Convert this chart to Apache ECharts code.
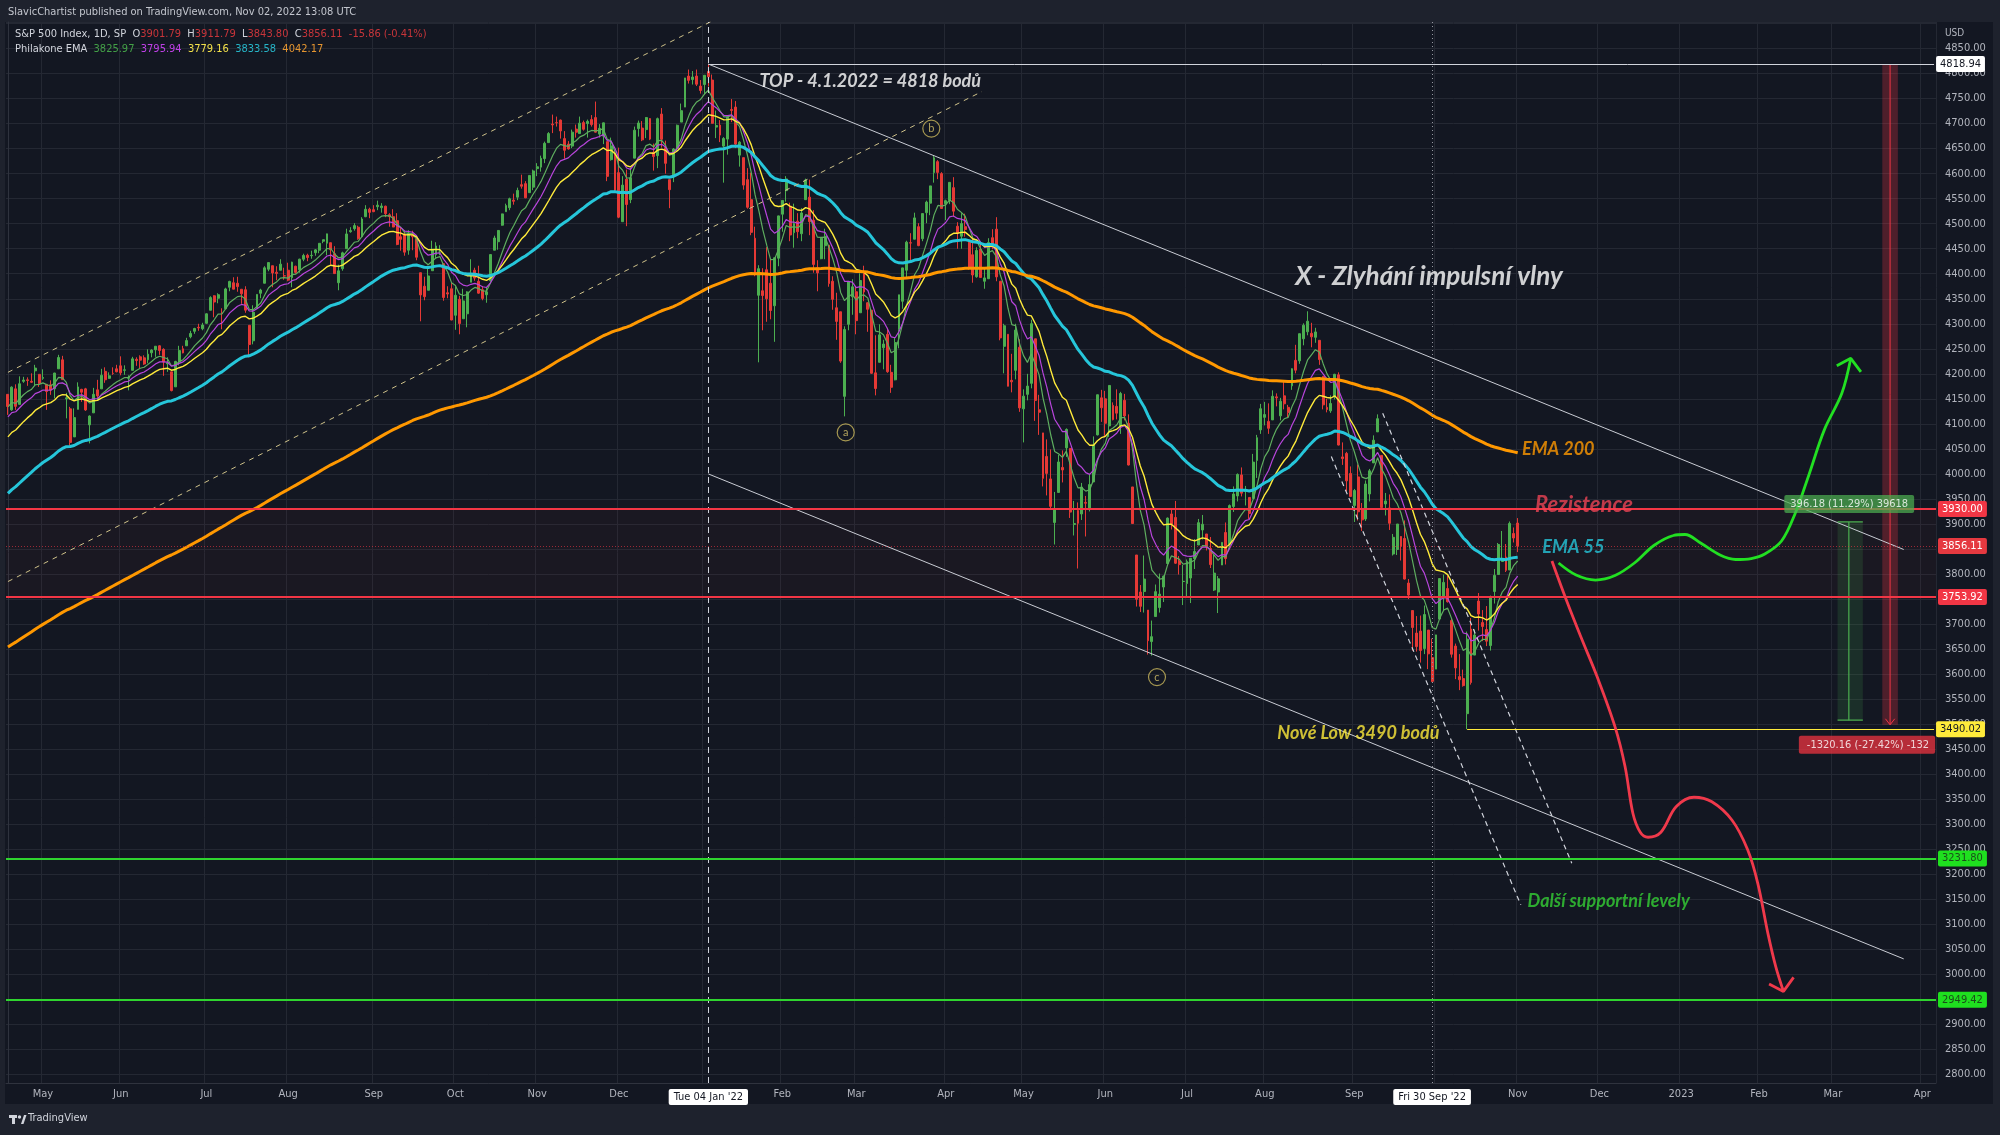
<!DOCTYPE html>
<html>
<head>
<meta charset="utf-8">
<script src="https://cdn.jsdelivr.net/npm/echarts@6/dist/echarts.min.js"></script>
<style>
html,body{margin:0;padding:0;background:#1e222d;}
#chart{width:2000px;height:1135px;}
</style>
</head>
<body>
<div id="chart"></div>
<script>
// ---------------- DATA ----------------
// S&P 500 daily bars: [date, open, high, low, close]
const spxDaily = [
['2021-04-20',4159,4159,4118,4134.9],['2021-04-21',4128,4175,4126,4173.4],['2021-04-22',4170,4179,4128,4135.0],['2021-04-23',4139,4195,4139,4180.2],['2021-04-26',4185,4194,4182,4187.6],['2021-04-27',4188,4193,4176,4186.7],['2021-04-28',4185,4201,4182,4183.2],['2021-04-29',4206,4218,4176,4211.5],['2021-04-30',4199,4199,4174,4181.2],
['2021-05-03',4191,4209,4188,4192.7],['2021-05-04',4179,4179,4128,4164.7],['2021-05-05',4178,4187,4158,4167.6],['2021-05-06',4170,4202,4151,4201.6],['2021-05-07',4210,4238,4210,4232.6],['2021-05-10',4228,4236,4188,4188.4],['2021-05-11',4150,4162,4111,4152.1],['2021-05-12',4130,4134,4056,4063.0],['2021-05-13',4074,4131,4074,4112.5],['2021-05-14',4129,4183,4129,4173.9],['2021-05-17',4169,4170,4144,4163.3],['2021-05-18',4170,4172,4126,4127.8],['2021-05-19',4098,4117,4061,4115.7],['2021-05-20',4122,4172,4122,4159.1],['2021-05-21',4168,4188,4152,4155.9],['2021-05-24',4170,4210,4170,4197.1],['2021-05-25',4205,4213,4182,4188.1],['2021-05-26',4191,4203,4190,4196.0],['2021-05-27',4201,4213,4198,4200.9],['2021-05-28',4210,4218,4203,4204.1],
['2021-06-01',4216,4235,4197,4202.0],['2021-06-02',4207,4217,4198,4208.1],['2021-06-03',4191,4197,4167,4192.9],['2021-06-04',4207,4234,4207,4229.9],['2021-06-07',4229,4233,4216,4226.5],['2021-06-08',4234,4237,4211,4227.3],['2021-06-09',4232,4237,4218,4219.6],['2021-06-10',4228,4249,4221,4239.2],['2021-06-11',4242,4249,4233,4247.4],['2021-06-14',4248,4255,4234,4255.2],['2021-06-15',4256,4257,4238,4246.6],['2021-06-16',4249,4251,4196,4223.7],['2021-06-17',4220,4233,4204,4221.9],['2021-06-18',4204,4204,4165,4166.5],['2021-06-21',4174,4226,4174,4224.8],['2021-06-22',4224,4256,4217,4246.4],['2021-06-23',4250,4256,4241,4241.8],['2021-06-24',4256,4272,4256,4266.5],['2021-06-25',4274,4286,4271,4280.7],['2021-06-28',4285,4292,4280,4290.6],['2021-06-29',4293,4300,4286,4291.8],['2021-06-30',4290,4302,4287,4297.5],
['2021-07-01',4301,4321,4300,4319.9],['2021-07-02',4327,4355,4327,4352.3],['2021-07-06',4356,4357,4313,4343.5],['2021-07-07',4351,4361,4341,4358.1],['2021-07-08',4321,4331,4289,4320.8],['2021-07-09',4330,4372,4330,4369.6],['2021-07-12',4373,4386,4365,4384.6],['2021-07-13',4382,4393,4369,4369.2],['2021-07-14',4381,4394,4364,4374.3],['2021-07-15',4369,4369,4340,4360.0],['2021-07-16',4368,4375,4322,4327.2],['2021-07-19',4297,4297,4233,4258.5],['2021-07-20',4266,4337,4259,4323.1],['2021-07-21',4332,4359,4330,4358.7],['2021-07-22',4361,4370,4351,4367.5],['2021-07-23',4381,4415,4381,4411.8],['2021-07-26',4409,4422,4405,4422.3],['2021-07-27',4416,4416,4373,4401.5],['2021-07-28',4403,4415,4387,4400.6],['2021-07-29',4407,4429,4407,4419.2],['2021-07-30',4396,4412,4388,4395.3],
['2021-08-02',4407,4422,4385,4387.2],['2021-08-03',4392,4424,4373,4423.2],['2021-08-04',4415,4416,4400,4402.7],['2021-08-05',4408,4430,4402,4429.1],['2021-08-06',4429,4440,4425,4436.5],['2021-08-09',4437,4440,4425,4432.4],['2021-08-10',4436,4446,4430,4436.8],['2021-08-11',4442,4449,4436,4447.7],['2021-08-12',4447,4461,4441,4460.8],['2021-08-13',4465,4468,4461,4468.0],['2021-08-16',4461,4480,4437,4479.7],['2021-08-17',4462,4462,4418,4448.1],['2021-08-18',4440,4455,4400,4400.3],['2021-08-19',4382,4418,4367,4405.8],['2021-08-20',4410,4444,4406,4441.7],['2021-08-23',4450,4490,4450,4479.5],['2021-08-24',4484,4493,4482,4486.2],['2021-08-25',4490,4501,4486,4496.2],['2021-08-26',4493,4496,4468,4470.0],['2021-08-27',4474,4513,4474,4509.4],['2021-08-30',4514,4537,4513,4528.8],['2021-08-31',4529,4532,4511,4522.7],
['2021-09-01',4528,4537,4523,4524.1],['2021-09-02',4534,4546,4527,4537.0],['2021-09-03',4532,4541,4522,4535.4],['2021-09-07',4535,4536,4513,4520.0],['2021-09-08',4518,4521,4494,4514.1],['2021-09-09',4514,4529,4493,4493.3],['2021-09-10',4506,4521,4457,4458.6],['2021-09-13',4474,4492,4446,4468.7],['2021-09-14',4479,4485,4436,4443.1],['2021-09-15',4447,4487,4438,4480.7],['2021-09-16',4477,4486,4447,4473.8],['2021-09-17',4469,4471,4427,4433.0],['2021-09-20',4402,4402,4305,4357.7],['2021-09-21',4375,4394,4347,4354.2],['2021-09-22',4367,4416,4367,4395.6],['2021-09-23',4406,4466,4406,4449.0],['2021-09-24',4438,4463,4430,4455.5],['2021-09-27',4443,4457,4437,4443.1],['2021-09-28',4420,4420,4346,4352.6],['2021-09-29',4362,4375,4351,4359.5],['2021-09-30',4370,4382,4307,4307.5],
['2021-10-01',4317,4375,4288,4357.0],['2021-10-04',4349,4356,4279,4300.5],['2021-10-05',4310,4370,4310,4345.7],['2021-10-06',4320,4365,4293,4363.6],['2021-10-07',4383,4429,4383,4399.8],['2021-10-08',4407,4412,4386,4391.3],['2021-10-11',4385,4416,4360,4361.2],['2021-10-12',4368,4375,4347,4350.7],['2021-10-13',4358,4372,4342,4363.8],['2021-10-14',4386,4439,4386,4438.3],['2021-10-15',4447,4476,4447,4471.4],['2021-10-18',4464,4487,4448,4486.5],['2021-10-19',4497,4520,4496,4519.6],['2021-10-20',4524,4540,4524,4536.2],['2021-10-21',4532,4552,4527,4549.8],['2021-10-22',4547,4560,4538,4544.9],['2021-10-25',4553,4572,4547,4566.5],['2021-10-26',4578,4598,4570,4574.8],['2021-10-27',4580,4585,4551,4551.7],['2021-10-28',4562,4597,4562,4596.4],['2021-10-29',4573,4608,4567,4605.4],
['2021-11-01',4610,4621,4595,4613.7],['2021-11-02',4613,4636,4604,4630.7],['2021-11-03',4630,4664,4621,4660.6],['2021-11-04',4662,4683,4662,4680.1],['2021-11-05',4699,4718,4681,4697.5],['2021-11-08',4702,4714,4694,4701.7],['2021-11-09',4707,4708,4670,4685.3],['2021-11-10',4670,4685,4630,4646.7],['2021-11-11',4659,4665,4648,4649.3],['2021-11-12',4655,4688,4651,4682.9],['2021-11-15',4689,4698,4672,4682.8],['2021-11-16',4680,4714,4680,4700.9],['2021-11-17',4702,4706,4686,4688.7],['2021-11-18',4700,4708,4672,4704.5],['2021-11-19',4708,4717,4694,4698.0],['2021-11-22',4712,4744,4682,4682.9],['2021-11-23',4679,4699,4672,4690.7],['2021-11-24',4675,4702,4659,4701.5],['2021-11-26',4664,4664,4585,4594.6],['2021-11-29',4628,4672,4626,4655.3],['2021-11-30',4640,4647,4565,4567.0],
['2021-12-01',4602,4652,4511,4513.0],['2021-12-02',4504,4595,4504,4577.1],['2021-12-03',4589,4608,4495,4538.4],['2021-12-06',4548,4612,4541,4591.7],['2021-12-07',4631,4694,4631,4686.8],['2021-12-08',4690,4706,4674,4701.2],['2021-12-09',4691,4705,4665,4667.5],['2021-12-10',4688,4713,4671,4712.0],['2021-12-13',4710,4711,4667,4669.0],['2021-12-14',4642,4660,4606,4634.1],['2021-12-15',4636,4712,4611,4709.9],['2021-12-16',4719,4731,4652,4668.7],['2021-12-17',4652,4666,4600,4620.6],['2021-12-20',4588,4588,4531,4568.0],['2021-12-21',4595,4651,4583,4649.2],['2021-12-22',4650,4698,4645,4696.6],['2021-12-23',4703,4740,4703,4725.8],['2021-12-27',4733,4791,4733,4791.2],['2021-12-28',4795,4808,4780,4786.4],['2021-12-29',4788,4805,4778,4793.1],['2021-12-30',4795,4808,4775,4778.7],['2021-12-31',4775,4787,4760,4766.2],
['2022-01-03',4778,4797,4758,4796.6],['2022-01-04',4804,4818.9,4774,4793.5],['2022-01-05',4787,4798,4700,4700.6],['2022-01-06',4693,4726,4671,4696.1],['2022-01-07',4697,4707,4663,4677.0],['2022-01-10',4655,4673,4582,4670.3],['2022-01-11',4669,4714,4638,4713.1],['2022-01-12',4728,4749,4703,4726.4],['2022-01-13',4733,4745,4651,4659.0],['2022-01-14',4637,4665,4614,4662.9],['2022-01-18',4632,4632,4568,4577.1],['2022-01-19',4588,4611,4530,4532.8],['2022-01-20',4548,4602,4477,4482.7],['2022-01-21',4471,4494,4395,4397.9],['2022-01-24',4357,4417,4223,4410.1],['2022-01-25',4366,4411,4287,4356.5],['2022-01-26',4408,4453,4304,4349.9],['2022-01-27',4381,4428,4309,4326.5],['2022-01-28',4336,4432,4264,4431.9],['2022-01-31',4431,4516,4415,4515.6],
['2022-02-01',4519,4546,4484,4546.5],['2022-02-02',4566,4595,4544,4589.4],['2022-02-03',4535,4542,4465,4477.4],['2022-02-04',4482,4540,4452,4500.5],['2022-02-07',4505,4521,4471,4483.9],['2022-02-08',4480,4531,4465,4521.5],['2022-02-09',4548,4590,4548,4587.2],['2022-02-10',4553,4588,4477,4504.1],['2022-02-11',4507,4527,4402,4418.6],['2022-02-14',4412,4427,4365,4401.7],['2022-02-15',4430,4472,4429,4471.1],['2022-02-16',4456,4490,4429,4475.0],['2022-02-17',4457,4457,4374,4380.3],['2022-02-18',4385,4395,4328,4348.9],['2022-02-22',4332,4362,4268,4304.8],['2022-02-23',4324,4324,4222,4225.5],['2022-02-24',4155,4295,4115,4288.7],['2022-02-25',4299,4385,4287,4384.7],['2022-02-28',4354,4389,4318,4373.9],
['2022-03-01',4364,4375,4279,4306.3],['2022-03-02',4322,4401,4322,4386.5],['2022-03-03',4401,4416,4345,4363.5],['2022-03-04',4342,4343,4284,4328.9],['2022-03-07',4327,4328,4200,4201.1],['2022-03-08',4202,4277,4157,4170.7],['2022-03-09',4223,4299,4223,4277.9],['2022-03-10',4252,4268,4209,4259.5],['2022-03-11',4279,4292,4202,4204.3],['2022-03-14',4203,4218,4162,4173.1],['2022-03-15',4188,4272,4187,4262.5],['2022-03-16',4289,4358,4251,4357.9],['2022-03-17',4345,4412,4330,4411.7],['2022-03-18',4407,4466,4390,4463.1],['2022-03-21',4462,4481,4424,4461.2],['2022-03-22',4469,4522,4469,4511.6],['2022-03-23',4494,4501,4455,4456.2],['2022-03-24',4470,4520,4465,4520.2],['2022-03-25',4522,4546,4501,4543.1],['2022-03-28',4541,4575,4517,4575.5],['2022-03-29',4602,4637,4582,4631.6],['2022-03-30',4624,4627,4589,4602.5],['2022-03-31',4600,4603,4530,4530.4],
['2022-04-01',4540,4548,4507,4545.9],['2022-04-04',4547,4583,4539,4582.6],['2022-04-05',4572,4593,4514,4525.1],['2022-04-06',4495,4503,4450,4481.2],['2022-04-07',4475,4521,4450,4500.2],['2022-04-08',4494,4520,4474,4488.3],['2022-04-11',4463,4464,4408,4412.5],['2022-04-12',4438,4471,4382,4397.5],['2022-04-13',4394,4453,4392,4446.6],['2022-04-14',4449,4460,4392,4392.6],['2022-04-18',4385,4411,4370,4391.7],['2022-04-19',4390,4471,4390,4462.2],['2022-04-20',4472,4489,4449,4459.5],['2022-04-21',4489,4513,4385,4393.7],['2022-04-22',4385,4385,4267,4271.8],['2022-04-25',4255,4300,4201,4296.1],['2022-04-26',4279,4279,4175,4175.2],['2022-04-27',4187,4240,4163,4184.0],['2022-04-28',4207,4300,4189,4287.5],['2022-04-29',4253,4269,4124,4131.9],
['2022-05-02',4130,4169,4063,4155.4],['2022-05-03',4159,4200,4147,4175.5],['2022-05-04',4181,4308,4171,4300.2],['2022-05-05',4270,4270,4106,4146.9],['2022-05-06',4128,4158,4078,4123.3],['2022-05-09',4082,4082,3975,3991.2],['2022-05-10',4035,4069,3957,4001.1],['2022-05-11',3990,4049,3929,3935.2],['2022-05-12',3903,3964,3859,3930.1],['2022-05-13',3963,4038,3963,4023.9],['2022-05-16',4013,4047,3983,4008.0],['2022-05-17',4052,4091,4034,4088.9],['2022-05-18',4051,4051,3912,3923.7],['2022-05-19',3899,3946,3877,3900.8],['2022-05-20',3927,3943,3811,3901.4],['2022-05-23',3920,3982,3908,3973.8],['2022-05-24',3943,3956,3875,3941.5],['2022-05-25',3929,3999,3925,3978.7],['2022-05-26',3984,4075,3984,4057.8],['2022-05-27',4078,4158,4077,4158.2],['2022-05-31',4152,4168,4104,4132.2],
['2022-06-01',4150,4166,4073,4101.2],['2022-06-02',4096,4177,4074,4176.8],['2022-06-03',4137,4143,4107,4108.5],['2022-06-06',4135,4169,4109,4121.4],['2022-06-07',4096,4164,4080,4160.7],['2022-06-08',4147,4160,4107,4115.8],['2022-06-09',4101,4119,4017,4017.8],['2022-06-10',3974,3974,3900,3900.9],['2022-06-13',3838,3838,3735,3749.6],['2022-06-14',3764,3778,3724,3735.5],['2022-06-15',3765,3837,3723,3790.0],['2022-06-16',3728,3728,3639,3666.8],['2022-06-17',3665,3707,3637,3674.8],['2022-06-21',3715,3779,3715,3764.8],['2022-06-22',3733,3801,3723,3759.9],['2022-06-23',3774,3797,3744,3795.7],['2022-06-24',3821,3913,3821,3911.7],['2022-06-27',3920,3928,3889,3900.1],['2022-06-28',3913,3946,3820,3821.6],['2022-06-29',3826,3836,3799,3818.8],['2022-06-30',3785,3818,3738,3785.4],
['2022-07-01',3781,3829,3753,3825.3],['2022-07-05',3792,3832,3742,3831.4],['2022-07-06',3831,3870,3810,3845.1],['2022-07-07',3858,3910,3858,3902.6],['2022-07-08',3888,3918,3869,3899.4],['2022-07-11',3880,3880,3847,3854.4],['2022-07-12',3851,3874,3812,3818.8],['2022-07-13',3768,3838,3766,3801.8],['2022-07-14',3764,3796,3722,3790.4],['2022-07-15',3818,3863,3818,3863.2],['2022-07-18',3883,3903,3819,3830.9],['2022-07-19',3860,3939,3860,3936.7],['2022-07-20',3935,3975,3924,3959.9],['2022-07-21',3956,4001,3945,3999.0],['2022-07-22',3998,4013,3955,3961.6],['2022-07-25',3965,3976,3937,3966.8],['2022-07-26',3953,3953,3910,3921.1],['2022-07-27',3951,4040,3951,4023.6],['2022-07-28',4027,4078,3992,4072.4],['2022-07-29',4088,4140,4080,4130.3],
['2022-08-01',4113,4144,4097,4118.6],['2022-08-02',4105,4141,4080,4091.2],['2022-08-03',4108,4167,4108,4155.2],['2022-08-04',4154,4161,4135,4151.9],['2022-08-05',4116,4152,4107,4145.2],['2022-08-08',4156,4186,4129,4140.1],['2022-08-09',4133,4138,4112,4122.5],['2022-08-10',4176,4211,4168,4210.2],['2022-08-11',4227,4258,4201,4207.3],['2022-08-12',4226,4280,4220,4280.2],['2022-08-15',4270,4301,4257,4297.1],['2022-08-16',4284,4325,4277,4305.2],['2022-08-17',4281,4302,4253,4274.0],['2022-08-18',4273,4292,4262,4283.7],['2022-08-19',4267,4267,4218,4228.5],['2022-08-22',4195,4195,4129,4138.0],['2022-08-23',4133,4150,4123,4128.7],['2022-08-24',4126,4157,4122,4140.8],['2022-08-25',4154,4200,4149,4199.1],['2022-08-26',4198,4203,4057,4057.7],['2022-08-29',4034,4063,4018,4030.6],['2022-08-30',4041,4044,3965,3986.2],['2022-08-31',4001,4015,3954,3955.0],
['2022-09-01',3937,3970,3904,3966.9],['2022-09-02',3994,4019,3907,3924.3],['2022-09-06',3930,3942,3886,3908.2],['2022-09-07',3910,3987,3906,3979.9],['2022-09-08',3960,4010,3945,4006.2],['2022-09-09',4022,4077,4022,4067.4],['2022-09-12',4084,4119,4084,4110.4],['2022-09-13',4037,4037,3932,3932.7],['2022-09-14',3940,3962,3917,3946.0],['2022-09-15',3932,3959,3888,3901.4],['2022-09-16',3840,3880,3837,3873.3],['2022-09-19',3849,3900,3838,3899.9],['2022-09-20',3875,3876,3827,3855.9],['2022-09-21',3871,3907,3789,3789.9],['2022-09-22',3782,3790,3750,3758.0],['2022-09-23',3727,3727,3647,3693.2],['2022-09-26',3682,3716,3645,3655.0],['2022-09-27',3686,3717,3623,3647.3],['2022-09-28',3651,3737,3640,3719.0],['2022-09-29',3688,3688,3610,3640.5],['2022-09-30',3633,3671,3584,3585.6],
['2022-10-03',3610,3678,3610,3678.4],['2022-10-04',3710,3791,3710,3790.9],['2022-10-05',3754,3799,3726,3783.3],['2022-10-06',3771,3797,3743,3744.5],['2022-10-07',3707,3710,3633,3639.7],['2022-10-10',3656,3661,3590,3612.4],['2022-10-11',3595,3640,3568,3588.8],['2022-10-12',3591,3609,3575,3577.0],['2022-10-13',3521,3685,3490.02,3669.9],['2022-10-14',3690,3712,3579,3583.1],['2022-10-17',3638,3689,3638,3678.0],['2022-10-18',3746,3762,3687,3720.0],['2022-10-19',3703,3728,3666,3695.2],['2022-10-20',3689,3736,3656,3665.8],['2022-10-21',3657,3757,3647,3752.8],['2022-10-24',3765,3810,3741,3797.3],['2022-10-25',3799,3862,3799,3859.1],['2022-10-26',3825,3886,3825,3830.6],['2022-10-27',3834,3860,3804,3807.3],['2022-10-28',3808,3905,3808,3901.1],['2022-10-31',3881,3893,3863,3871.97],
['2022-11-01',3901.79,3911.79,3843.80,3856.11]
];

// future (empty) part of the time axis
const axisEndDate = '2023-04-06';
const futureHolidays = ['2022-11-24','2022-12-26','2023-01-02','2023-01-16','2023-02-20'];
const monthNames = ['Jan','Feb','Mar','Apr','May','Jun','Jul','Aug','Sep','Oct','Nov','Dec'];
const crosshairDates = {'2022-01-04':"Tue 04 Jan '22", '2022-09-30':"Fri 30 Sep '22"};
const hiddenMonthLabels = ['2022-01-03','2022-10-03'];
const priceAxisMin = 2783, priceAxisMax = 4903, lastPriceLabel = 4850;

// Philakone EMA: periods, start values read at the left edge, legend values
const emaPeriods = [8, 13, 21, 55, 200];
const emaStart = [4134, 4114, 4074, 3961, 3654];
const emaLegend = [3825.97, 3795.94, 3779.16, 3833.58, 4042.17];

// horizontal price levels
const topLevel = 4818.94;
const resistance = 3930.00;
const supportRed = 3753.92;
const newLow = 3490.02;
const supportGreen = [3231.80, 2949.42];

// drawings in (bar position, price); bar 0 = 2021-04-20
const descChannelTop = [[180, 4818.94], [487.2, 3849]];
const descChannelBottom = [[180, 4000], [487.2, 3031]];
const riseChannelTop = [[0, 4203], [181, 4905]];
const riseChannelBottom = [[0, 3785], [250.3, 4764]];
const fallLineA = [[340.1, 4034.7], [388.8, 3138.9]];
const fallLineB = [[353.3, 4121.3], [401.9, 3222]];
const bullPath = [[398.5,3822],[403,3798],[408,3788],[413,3797],[418,3822],[423,3857],[428,3877],[431,3879],[435,3862],[440,3838],[444,3829],[448,3831],[451.5,3840],[455.8,3866],[459.3,3921],[462.7,3995],[466.8,4088],[471.3,4161],[473.6,4231]];
const bullArrow = [[470.0,4216],[473.6,4231],[476.2,4204]];
const bearPath = [[396.8,3826],[400.5,3748],[404.3,3673],[408.4,3595],[413.0,3495],[415.6,3415],[417.6,3322],[419.5,3284],[421.5,3274],[424.8,3284],[428.7,3335],[433.3,3354],[437.9,3345],[443.1,3308],[447.1,3249],[449.7,3182],[452.3,3082],[454.3,3016],[456.3,2966]];
const bearArrow = [[452.6,2981],[456.3,2966],[458.9,2994]];
const waveLabels = ['a','b','c'];
const waveAnchors = [[215.3,4083],[237.3,4690],[295.3,3594]];
const noteTexts = ['TOP - 4.1.2022 = 4818 bodů','X - Zlyhání impulsní vlny','EMA 200','Rezistence','EMA 55','Nové Low 3490 bodů','Další supportní levely'];
const noteAnchors = [[193,4784],[330.7,4394],[389,4050],[392.3,3938],[394.2,3854],[326.1,3482],[390.4,3146]];
// price range tools
const longRange = {x: 473.1, x0: 470.2, x1: 476.7, from: 3508, to: 3904, text: '396.18 (11.29%) 39618', labelAt: [473.2, 3940]};
const shortRange = {x: 483.7, x0: 481.7, x1: 485.7, from: 4818.94, to: 3498.78, text: '-1320.16 (-27.42%) -132', labelAt: [495.4, 3459]};

// ---------------- BUILD ----------------
const fontUI = "'Liberation Sans Narrow','DejaVu Sans Condensed',Roboto,'Noto Sans',sans-serif";
const fontNote = "Lato,'Open Sans',sans-serif";
const UP = '#4caf50', DOWN = '#e53935';

function ymd(d){ return d.toISOString().slice(0,10); }
const categories = spxDaily.map(r => r[0]);
(function(){
  const d = new Date(categories[categories.length-1] + 'T00:00:00Z');
  for(let k=0;k<400;k++){
    d.setUTCDate(d.getUTCDate()+1);
    const s = ymd(d);
    if (s > axisEndDate) break;
    const wd = d.getUTCDay();
    if (wd === 0 || wd === 6 || futureHolidays.includes(s)) continue;
    categories.push(s);
  }
})();
const N = categories.length;
const monthStart = new Set();
categories.forEach((s,i) => { if (i>0 && s.slice(0,7) !== categories[i-1].slice(0,7)) monthStart.add(i); });

const closes = spxDaily.map(r => r[4]);
function ema(period, start){
  const k = 2/(period+1); let prev = start;
  return closes.map((c,i) => { if (i>0) prev = c*k + prev*(1-k); return +prev.toFixed(2); });
}
const emaColors = ['#5fae5f','#b845dc','#ffeb3b','#26c6da','#ff9800'];
const emaWidths = [1.2,1.2,1.4,3,3];
const emaSeries = emaPeriods.map((p,j) => ({
  type:'line', name:'EMA '+p, xAxisIndex:0, yAxisIndex:0, data: ema(p, emaStart[j]),
  showSymbol:false, symbol:'none', smooth:false, silent:true, z:3,
  lineStyle:{color:emaColors[j], width:emaWidths[j]}
}));

function seg(data, color, width, type, extra){
  return Object.assign({type:'line', xAxisIndex:1, yAxisIndex:0, data:data, showSymbol:false, symbol:'none', silent:true, z:4, clip:true,
    lineStyle:{color:color, width:width, type:type||'solid'}}, extra||{});
}
function priceTag(text, bg, fg){
  return {show:true, position:'end', distance:2, formatter:text, backgroundColor:bg, color:fg,
    padding:[3,4,2,4], fontSize:11, fontFamily:fontUI, borderRadius:2};
}

const last = spxDaily[spxDaily.length-1];
const prev = spxDaily[spxDaily.length-2];
const chg = last[4]-prev[4];
const chgPct = chg/prev[4]*100;
const lastCat = categories[N-1];

const candleSeries = {
  type:'candlestick', name:'S&P 500', xAxisIndex:0, yAxisIndex:0, z:2, silent:true,
  data: spxDaily.map(r => [r[1], r[4], r[3], r[2]]),
  barWidth: 2.4,
  itemStyle:{color:UP, color0:DOWN, borderColor:UP, borderColor0:DOWN, borderWidth:1},
  markArea:{silent:true, itemStyle:{color:'rgba(242,54,69,0.03)'}, data:[[{yAxis:supportRed},{yAxis:resistance}]]},
  markLine:{
    silent:true, symbol:['none','none'], animation:false,
    data:[
      {xAxis:'2022-01-04', lineStyle:{color:'#d1d4dc', type:[6,4], width:1}, label:{show:false}},
      {xAxis:'2022-09-30', lineStyle:{color:'#9598a1', type:[1,3], width:1}, label:{show:false}},
      [{coord:['2022-01-04', topLevel], lineStyle:{color:'#d1d4dc', width:1, type:'solid'}, label:priceTag(topLevel.toFixed(2),'#ffffff','#131722')},
       {coord:[lastCat, topLevel]}],
      {yAxis:resistance, lineStyle:{color:'#f23645', width:2, type:'solid'}, label:priceTag(resistance.toFixed(2),'#f23645','#ffffff')},
      {yAxis:last[4], lineStyle:{color:'rgba(242,54,69,0.6)', width:1, type:[1,2]}, label:priceTag(last[4].toFixed(2),'#e53940','#ffffff')},
      {yAxis:supportRed, lineStyle:{color:'#f23645', width:2, type:'solid'}, label:priceTag(supportRed.toFixed(2),'#f23645','#ffffff')},
      [{coord:['2022-10-13', newLow], lineStyle:{color:'#ffeb3b', width:1, type:'solid'}, label:priceTag(newLow.toFixed(2),'#ffeb3b','#131722')},
       {coord:[lastCat, newLow]}],
      {yAxis:supportGreen[0], lineStyle:{color:'#2fd42f', width:2, type:'solid'}, label:priceTag(supportGreen[0].toFixed(2),'#1fe01f','#1b4d1b')},
      {yAxis:supportGreen[1], lineStyle:{color:'#2fd42f', width:2, type:'solid'}, label:priceTag(supportGreen[1].toFixed(2),'#1fe01f','#1b4d1b')}
    ]
  }
};

const noteColors = ['#ffffff','#ffffff','#ff9800','#ee4455','#26c6da','#ffeb3b','#34d134'];
const noteSizes = [18,26,18,22,18,18,18];
const notesSeries = {
  type:'scatter', xAxisIndex:1, yAxisIndex:0, silent:true, clip:false, z:6, symbolSize:1,
  itemStyle:{color:'rgba(0,0,0,0)'},
  data: noteTexts.map((t,i) => ({value:noteAnchors[i], label:{show:true, position:'right', distance:0, formatter:t,
    color:noteColors[i], fontSize:noteSizes[i], fontWeight:'bold', fontStyle:'italic', fontFamily:fontNote}}))
};
const waveSeries = {
  type:'scatter', xAxisIndex:1, yAxisIndex:0, silent:true, clip:false, z:6, symbol:'circle', symbolSize:17,
  itemStyle:{color:'rgba(0,0,0,0)', borderColor:'#cbb85c', borderWidth:1.2},
  label:{show:true, position:'inside', color:'#d8c46a', fontSize:11, fontFamily:fontNote},
  data: waveLabels.map((t,i) => ({value:waveAnchors[i], label:{formatter:t}}))
};
const rangeLabels = {
  type:'scatter', xAxisIndex:1, yAxisIndex:0, silent:true, clip:false, z:5, symbolSize:1,
  itemStyle:{color:'rgba(0,0,0,0)'},
  data:[
    {value:longRange.labelAt, label:{show:true, position:'inside', formatter:longRange.text, color:'#ffffff',
      backgroundColor:'rgba(76,175,80,0.9)', padding:[4,6,3,6], borderRadius:2, fontSize:11, fontFamily:fontUI}},
    {value:shortRange.labelAt, label:{show:true, position:'left', distance:0, formatter:shortRange.text, color:'#ffffff',
      backgroundColor:'#e0323f', padding:[4,6,3,8], borderRadius:2, fontSize:11, fontFamily:fontUI}}
  ]
};

const drawSeries = [
  seg(descChannelTop, '#c9ccd4', 1),
  seg(descChannelBottom, '#c9ccd4', 1),
  seg(riseChannelTop, '#cfc28a', 1, [5,5]),
  seg(riseChannelBottom, '#cfc28a', 1, [5,5]),
  seg(fallLineA, '#d1d4dc', 1.2, [5,4]),
  seg(fallLineB, '#d1d4dc', 1.2, [5,4]),
  seg(bullPath, '#22e022', 2.8, 'solid', {smooth:0.35, z:5}),
  seg(bullArrow, '#22e022', 2.8, 'solid', {z:5}),
  seg(bearPath, '#f0394b', 2.8, 'solid', {smooth:0.35, z:5}),
  seg(bearArrow, '#f0394b', 2.8, 'solid', {z:5}),
  seg([[longRange.x, longRange.from],[longRange.x, longRange.to]], '#4caf50', 1.2, 'solid',
      {markArea:{silent:true, itemStyle:{color:'rgba(76,175,80,0.16)'}, data:[[{coord:[longRange.x0, longRange.from]},{coord:[longRange.x1, longRange.to]}]]}}),
  seg([[longRange.x0, longRange.to],[longRange.x1, longRange.to]], '#4caf50', 1.2),
  seg([[longRange.x0, longRange.from],[longRange.x1, longRange.from]], '#4caf50', 1.2),
  seg([[shortRange.x, shortRange.from],[shortRange.x, shortRange.to]], '#f23645', 1, 'solid',
      {markArea:{silent:true, itemStyle:{color:'rgba(242,54,69,0.27)'}, data:[[{coord:[shortRange.x0, shortRange.to]},{coord:[shortRange.x1, shortRange.from]}]]}}),
  seg([[shortRange.x-1.2, shortRange.to+12],[shortRange.x, shortRange.to],[shortRange.x+1.2, shortRange.to+12]], '#f23645', 1)
];

const legend1 = `{w|S&P 500 Index, 1D, SP}  {w|O}{r|${last[1].toFixed(2)}}  {w|H}{r|${last[2].toFixed(2)}}  {w|L}{r|${last[3].toFixed(2)}}  {w|C}{r|${last[4].toFixed(2)}}  {r|${chg.toFixed(2)} (${chgPct.toFixed(2)}%)}`;
const legend2 = `{w|Philakone EMA}  {e0|${emaLegend[0].toFixed(2)}}  {e1|${emaLegend[1].toFixed(2)}}  {e2|${emaLegend[2].toFixed(2)}}  {e3|${emaLegend[3].toFixed(2)}}  {e4|${emaLegend[4].toFixed(2)}}`;
const rs = (c) => ({fill:c, fontSize:11, fontFamily:fontUI});

const chart = echarts.init(document.getElementById('chart'), null, {renderer:'canvas'});
chart.setOption({
  animation:false,
  backgroundColor:'transparent',
  textStyle:{fontFamily:fontUI},
  grid:{left:6, right:64, top:22, bottom:52, outerBoundsMode:'none', containLabel:false},
  xAxis:[
    {type:'category', data:categories, boundaryGap:true, gridIndex:0,
     axisLine:{show:true, lineStyle:{color:'#2f333e'}}, axisTick:{show:false},
     axisLabel:{color:'#b2b5be', fontSize:11, margin:6, fontFamily:fontUI,
       interval:(i,v) => (monthStart.has(i) && !hiddenMonthLabels.includes(v)) || crosshairDates[v] !== undefined,
       formatter:(v) => crosshairDates[v] ? '{box|'+crosshairDates[v]+'}' : (v.slice(5,7)==='01' ? v.slice(0,4) : monthNames[+v.slice(5,7)-1]),
       rich:{box:{backgroundColor:'#ffffff', color:'#131722', padding:[3,5,2,5], borderRadius:2, fontSize:11, fontFamily:fontUI}}},
     splitLine:{show:true, interval:(i) => monthStart.has(i), lineStyle:{color:'#242833', width:1}}},
    {type:'value', min:-0.5, max:N-0.5, show:false, gridIndex:0, splitLine:{show:false}}
  ],
  yAxis:{type:'value', position:'right', min:priceAxisMin, max:priceAxisMax, splitNumber:42,
    axisLine:{show:true, lineStyle:{color:'#2f333e'}}, axisTick:{show:false},
    axisLabel:{color:'#b2b5be', fontSize:11, margin:9, fontFamily:fontUI, showMinLabel:false, showMaxLabel:false,
      formatter:(v) => v > lastPriceLabel ? '' : v.toFixed(2)},
    splitLine:{show:true, lineStyle:{color:'#242833', width:1}}},
  graphic:[
    {type:'rect', z:-10, silent:true, shape:{x:5, y:22, width:1988, height:1082}, style:{fill:'#131722'}},
    {type:'text', silent:true, x:8, y:7, style:{text:'SlavicChartist published on TradingView.com, Nov 02, 2022 13:08 UTC', fill:'#c3c6ce', fontSize:11, fontFamily:fontUI}},
    {type:'text', silent:true, x:15, y:29, z:10, style:{text:legend1, fill:'#d1d4dc', fontSize:11, fontFamily:fontUI,
      rich:{w:rs('#d1d4dc'), r:rs('#c8353a')}}},
    {type:'text', silent:true, x:15, y:44, z:10, style:{text:legend2, fill:'#d1d4dc', fontSize:11, fontFamily:fontUI,
      rich:{w:rs('#d1d4dc'), e0:rs('#43a047'), e1:rs('#c040e8'), e2:rs('#f2e04a'), e3:rs('#26b5c8'), e4:rs('#e59530')}}},
    {type:'text', silent:true, x:1945, y:28, z:10, style:{text:'USD', fill:'#b2b5be', fontSize:10, fontFamily:fontUI}},
    {type:'rect', silent:true, shape:{x:9, y:1115, width:8, height:3}, style:{fill:'#d1d4dc'}},
    {type:'rect', silent:true, shape:{x:12, y:1115, width:3, height:9}, style:{fill:'#d1d4dc'}},
    {type:'circle', silent:true, shape:{cx:19.5, cy:1117, r:1.7}, style:{fill:'#d1d4dc'}},
    {type:'polygon', silent:true, shape:{points:[[21,1124],[24,1115],[26.5,1115],[23.5,1124]]}, style:{fill:'#d1d4dc'}},
    {type:'text', silent:true, x:28, y:1113, style:{text:'TradingView', fill:'#d1d4dc', fontSize:11, fontFamily:fontUI}}
  ],
  series:[candleSeries].concat(emaSeries, drawSeries, [rangeLabels, waveSeries, notesSeries])
});
</script>
</body>
</html>
